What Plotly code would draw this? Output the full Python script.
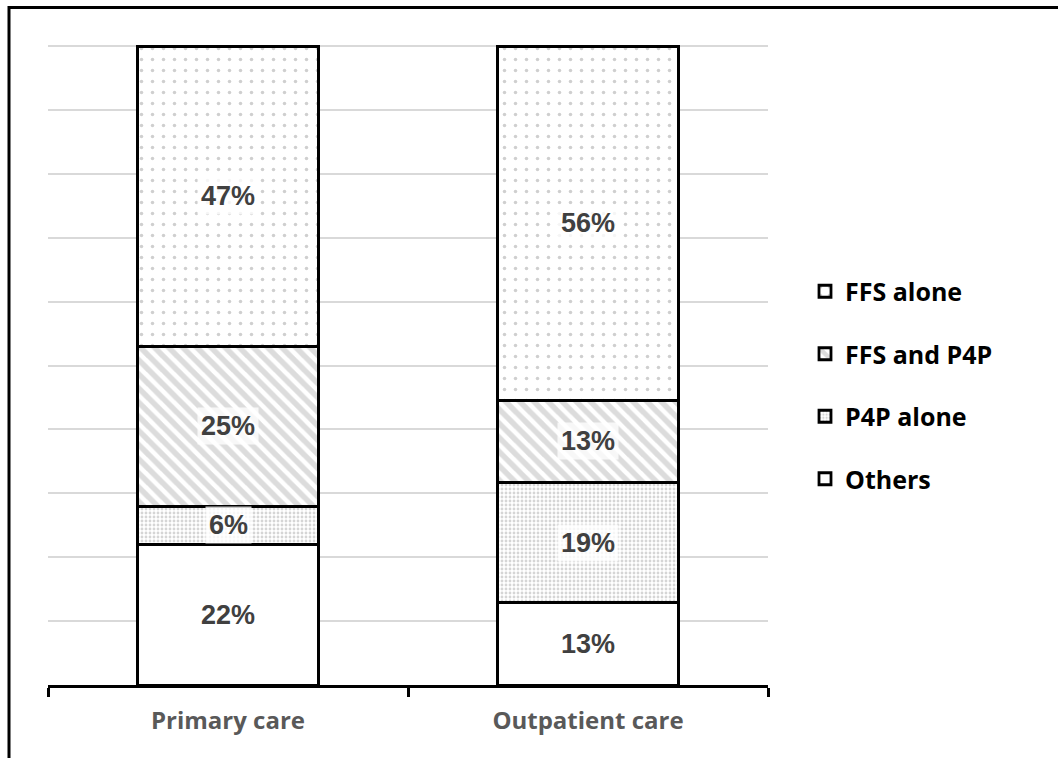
import plotly.graph_objects as go

# Payment mechanism shares by care setting (percent)
categories = ["Primary care", "Outpatient care"]
others = [22, 13]
p4p_alone = [6, 19]
ffs_and_p4p = [25, 13]
ffs_alone = [47, 56]

# (name, values, fill pattern, legend rank) in stacking order, bottom first
series = [
    ("Others", others, dict(shape="", bgcolor="white"), 4),
    ("P4P alone", p4p_alone, dict(shape=".", size=4, solidity=0.4,
                                  fgcolor="#acacac", bgcolor="white"), 3),
    ("FFS and P4P", ffs_and_p4p, dict(shape="\\", size=10, solidity=0.55,
                                      fgcolor="#bababa", bgcolor="white"), 2),
    ("FFS alone", ffs_alone, dict(shape=".", size=11, solidity=0.08,
                                  fgcolor="#a0a0a0", bgcolor="white"), 1),
]

fig = go.Figure()
for name, vals, pattern, rank in series:
    fig.add_trace(go.Bar(
        x=categories, y=vals, name=name,
        legendgroup=name, legendrank=rank,
        marker=dict(color="white", pattern=pattern,
                    line=dict(color="black", width=2.8)),
    ))

# Value labels with a translucent white box, centred in each segment
totals = [sum(s[1][j] for s in series) for j in range(len(categories))]
annotations = []
for j, cat in enumerate(categories):
    cum = 0
    for name, vals, _, _ in series:
        mid = 100 * (cum + vals[j] / 2) / totals[j]
        cum += vals[j]
        annotations.append(dict(
            x=cat, y=mid, xref="x", yref="y", text=f"{vals[j]}%",
            showarrow=False,
            font=dict(family="Liberation Sans, Arial", size=27,
                      color="#404040", weight="bold"),
            bgcolor="rgba(255,255,255,0.78)", borderpad=3,
        ))

# Outer frame lines (top and left)
W, H = 1058, 758
ml, mr, mt, mb = 48, 290, 43, 73
pw, ph = W - ml - mr, H - mt - mb
def px(xp):
    return (xp - ml) / pw
def py(yp):
    return (H - mb - yp) / ph

shapes = [
    dict(type="line", xref="paper", yref="paper",
         x0=px(8), x1=px(W + 5), y0=py(7.5), y1=py(7.5),
         line=dict(color="black", width=3)),
    dict(type="line", xref="paper", yref="paper",
         x0=px(9), x1=px(9), y0=py(6), y1=py(H + 5),
         line=dict(color="black", width=3)),
]

fig.update_layout(
    width=W, height=H,
    margin=dict(l=ml, r=mr, t=mt, b=mb, pad=0),
    paper_bgcolor="white", plot_bgcolor="white",
    barmode="stack", barnorm="percent", bargap=0.497,
    annotations=annotations, shapes=shapes,
    showlegend=True,
    legend=dict(
        x=px(805), xanchor="left", y=py(385), yanchor="middle",
        traceorder="grouped", tracegroupgap=27,
        font=dict(family="Open Sans, sans-serif", size=25,
                  color="black", weight="bold"),
        bgcolor="rgba(0,0,0,0)",
    ),
    xaxis=dict(
        showline=True, linecolor="black", linewidth=2.5,
        ticks="outside", tickson="boundaries", ticklen=9,
        tickwidth=2.5, tickcolor="black",
        tickfont=dict(family="Open Sans, sans-serif", size=24,
                      color="#595959", weight="bold"),
        ticklabelstandoff=12, showgrid=False,
    ),
    yaxis=dict(
        range=[0, 100.5], dtick=10, showticklabels=False,
        showgrid=True, gridcolor="#d9d9d9", gridwidth=2,
        zeroline=False, showline=False,
    ),
)

fig.write_html("out.html")
